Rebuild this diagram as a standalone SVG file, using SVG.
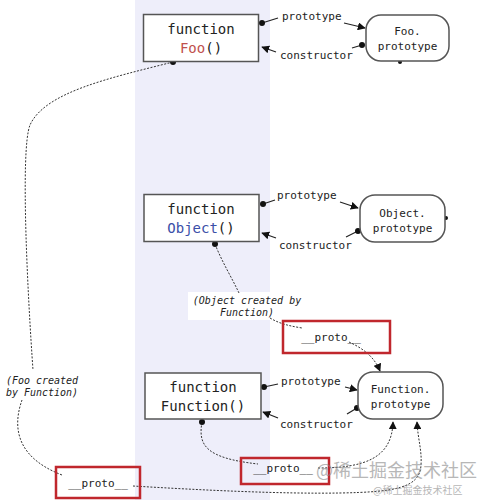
<svg xmlns="http://www.w3.org/2000/svg" width="477" height="500" viewBox="0 0 477 500">
<defs>
<style>
.mono{font-family:"DejaVu Sans Mono","Liberation Mono",monospace;fill:#222}
.node{font-size:14px;text-anchor:middle}
.lbl{font-size:11px}
.ital{font-size:10px;font-style:italic;text-anchor:middle}
.box{fill:#fff;stroke:#555;stroke-width:1.5}
.red{fill:none;stroke:#c0272d;stroke-width:2.5}
.ln{fill:none;stroke:#222;stroke-width:1.2}
.dash{fill:none;stroke:#333;stroke-width:1;stroke-dasharray:2 1.5}
</style>
<marker id="arr" viewBox="0 0 10 10" refX="9" refY="5" markerWidth="8" markerHeight="8" orient="auto" markerUnits="userSpaceOnUse">
<path d="M0,0 L10,5 L0,10 z" fill="#111"/>
</marker>
<marker id="dot" viewBox="0 0 10 10" refX="5" refY="5" markerWidth="6" markerHeight="6" markerUnits="userSpaceOnUse">
<circle cx="5" cy="5" r="5" fill="#111"/>
</marker>
</defs>
<rect width="477" height="500" fill="#fff"/>
<rect x="135" y="0" width="135" height="500" fill="#eeeefa"/>
<rect x="188" y="292" width="118" height="28" fill="#fff"/>

<g id="connectors">
<path class="ln" d="M262,23 L278,18" marker-start="url(#dot)"/>
<path class="ln" d="M344,23 L365,28" marker-end="url(#arr)"/>
<path class="ln" d="M362,45 L352,48" marker-start="url(#dot)"/>
<path class="ln" d="M276,52 L262,47" marker-end="url(#arr)"/>
<path class="ln" d="M263,204 L275,200" marker-start="url(#dot)"/>
<path class="ln" d="M340,202 L358,208" marker-end="url(#arr)"/>
<path class="ln" d="M358,231 L346,237" marker-start="url(#dot)"/>
<path class="ln" d="M276,238 L262,233" marker-end="url(#arr)"/>
<path class="ln" d="M264,387 L278,384" marker-start="url(#dot)"/>
<path class="ln" d="M345,387 L357,390" marker-end="url(#arr)"/>
<path class="ln" d="M357,408 L347,414" marker-start="url(#dot)"/>
<path class="ln" d="M278,418 L263,412" marker-end="url(#arr)"/>
<path class="dash" d="M173,62 C110,78 45,92 30,125 C20,150 28,300 33,370" marker-start="url(#dot)"/>
<path class="dash" d="M22,400 C15,420 10,455 62,475"/>
<path class="dash" d="M215,244 C222,262 232,278 239,293" marker-start="url(#dot)"/>
<path class="dash" d="M270,318 C280,324 290,326 302,328"/>
<path class="dash" d="M349,342 C362,348 374,356 380,371" marker-end="url(#arr)"/>
<path class="dash" d="M202,422 C198,445 205,458 258,464" marker-start="url(#dot)"/>
<path class="dash" d="M318,468 C365,468 392,458 393,422" marker-end="url(#arr)"/>
<path class="dash" d="M133,486 C200,490 280,494 340,493 C395,492 420,488 421,465 C422,450 418,440 417,422" marker-end="url(#arr)"/>
<circle cx="400" cy="62" r="2" fill="#111"/>
<circle cx="446" cy="218" r="2" fill="#111"/>
</g>

<g id="labels" class="mono">
<text class="lbl" x="282" y="20">prototype</text>
<text class="lbl" x="280" y="59">constructor</text>
<text class="lbl" x="277" y="199">prototype</text>
<text class="lbl" x="279" y="249">constructor</text>
<text class="lbl" x="281" y="385">prototype</text>
<text class="lbl" x="280" y="428">constructor</text>
<text class="ital" x="247" y="304">(Object created by</text>
<text class="ital" x="247" y="316">Function)</text>
<text class="ital" x="42" y="384">(Foo created</text>
<text class="ital" x="42" y="396">by Function)</text>
</g>

<g id="foo">
<rect class="box" x="143.5" y="14.5" width="115" height="47"/>
<text class="mono node" x="201" y="34">function</text>
<text class="mono node" x="201" y="53"><tspan fill="#c0504d">Foo</tspan>()</text>
</g>
<g id="foo-prototype">
<rect class="box" x="366" y="15" width="83" height="46" rx="15"/>
<text class="mono lbl" x="407.5" y="35" text-anchor="middle">Foo.</text>
<text class="mono lbl" x="407.5" y="50" text-anchor="middle">prototype</text>
</g>
<g id="object">
<rect class="box" x="144" y="194.5" width="115" height="47"/>
<text class="mono node" x="201" y="214">function</text>
<text class="mono node" x="201" y="233"><tspan fill="#3a4fa8">Object</tspan>()</text>
</g>
<g id="object-prototype">
<rect class="box" x="360" y="195" width="85" height="47" rx="15"/>
<text class="mono lbl" x="402.5" y="217" text-anchor="middle">Object.</text>
<text class="mono lbl" x="402.5" y="232" text-anchor="middle">prototype</text>
</g>
<g id="function">
<rect class="box" x="145" y="373" width="116" height="46"/>
<text class="mono node" x="203" y="392">function</text>
<text class="mono node" x="203" y="411">Function()</text>
</g>
<g id="function-prototype">
<rect class="box" x="358" y="372" width="85" height="47" rx="15"/>
<text class="mono lbl" x="400.5" y="393" text-anchor="middle">Function.</text>
<text class="mono lbl" x="400.5" y="408" text-anchor="middle">prototype</text>
</g>
<g id="proto1">
<rect class="red" x="283" y="321" width="107" height="32"/>
<text class="mono lbl" x="331" y="341" text-anchor="middle">__proto__</text>
</g>
<g id="proto2">
<rect class="red" x="241" y="458" width="88" height="26"/>
<text class="mono lbl" x="283" y="472" text-anchor="middle">__proto__</text>
</g>
<g id="proto3">
<rect class="red" x="56" y="467" width="84" height="31"/>
<text class="mono lbl" x="98" y="487" text-anchor="middle">__proto__</text>
</g>
<g id="watermark" font-family="'Noto Sans CJK SC',sans-serif" fill="#888" opacity="0.6">
<text x="316" y="477" font-size="18">@稀土掘金技术社区</text>
<text x="373" y="494" font-size="10">@稀土掘金技术社区</text>
</g>
</svg>
